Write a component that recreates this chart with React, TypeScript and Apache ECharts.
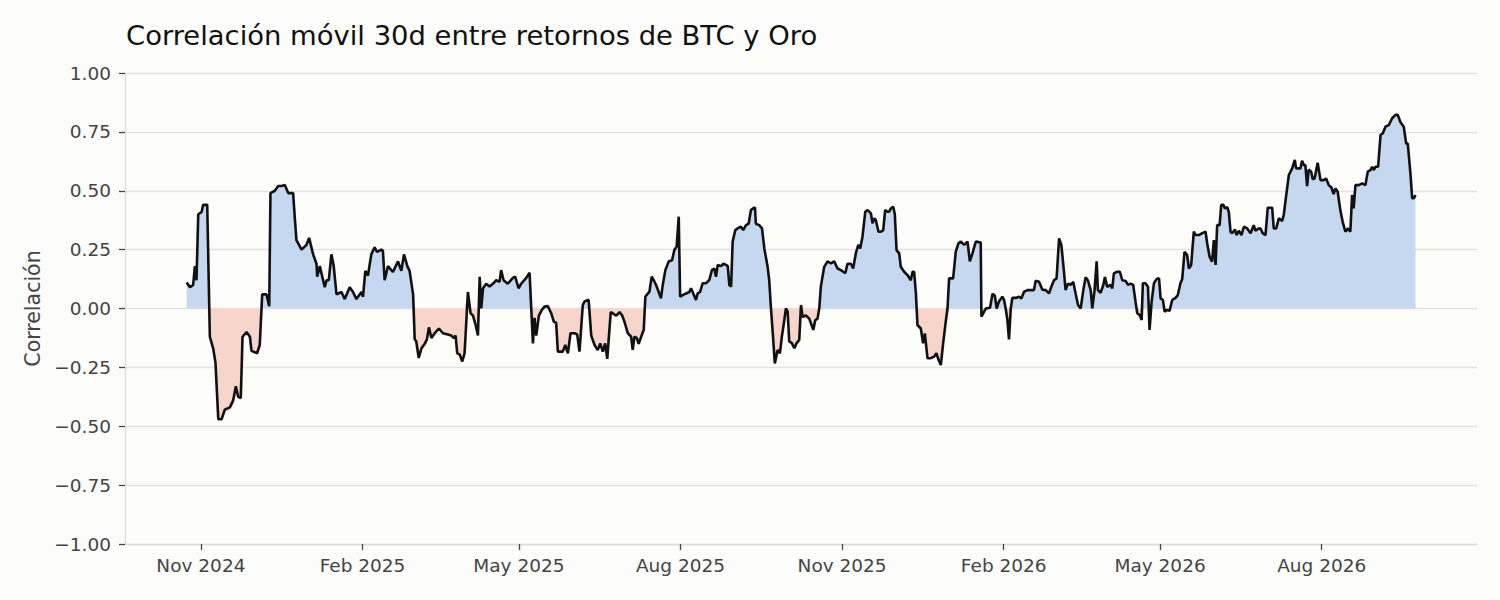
import React, { useEffect, useRef } from 'react'
import * as echarts from 'echarts'

const DAY_MS = 86400000
const ORIGIN = Date.UTC(2024, 10, 1) // 1 Nov 2024, day 0

// días desde 1 nov 2024
const dayOffsets = [
  -8.1, -6.2, -4.4, -3.4, -2.5, -1.5, 0.4, 1.3, 3.6, 5.1, 7.0, 8.3, 9.9, 11.8, 13.6, 16.5, 18.4, 19.9, 21.2, 22.7,
  23.7, 26.0, 27.9, 28.8, 32.0, 33.5, 34.9, 37.3, 38.9, 39.6, 42.1, 44.0, 45.9, 47.8, 49.7, 52.5, 53.5, 54.4, 57.3, 60.1,
  61.6, 63.9, 65.8, 66.2, 67.7, 70.5, 71.5, 72.8, 74.3, 75.6, 77.2, 80.0, 81.9, 84.7, 86.6, 88.5, 91.4, 92.3, 93.6, 95.1,
  97.0, 98.9, 100.3, 102.7, 103.6, 104.6, 106.5, 109.3, 112.2, 114.1, 115.6, 117.5, 118.8, 120.8, 121.7, 122.6, 124.0, 125.5, 127.4, 128.7,
  129.8, 131.2, 133.1, 135.5, 137.8, 140.6, 142.5, 144.0, 145.0, 145.9, 147.3, 148.8, 150.1, 152.0, 153.5, 154.9, 156.4, 157.7, 158.7, 159.6,
  160.6, 162.4, 164.3, 166.2, 168.1, 170.0, 170.9, 172.3, 174.7, 177.6, 178.9, 180.8, 182.3, 185.2, 187.1, 188.0, 189.0, 189.9, 190.9, 192.4,
  194.1, 195.6, 197.5, 199.4, 200.9, 202.2, 203.2, 206.0, 207.4, 208.9, 210.4, 212.7, 214.2, 215.5, 217.4, 218.4, 220.7, 222.2, 224.1, 225.9,
  227.3, 228.8, 230.1, 231.3, 233.3, 236.4, 238.3, 239.8, 241.1, 243.0, 244.9, 245.8, 246.8, 248.1, 249.2, 250.6, 252.1, 253.0, 254.4, 255.3,
  256.6, 257.8, 259.1, 260.6, 261.9, 262.9, 264.4, 266.3, 268.2, 269.5, 270.8, 272.0, 272.8, 274.3, 276.2, 278.1, 279.0, 280.3, 281.8, 282.8,
  284.1, 285.6, 287.5, 289.4, 290.9, 292.3, 293.2, 294.2, 296.1, 297.4, 298.9, 299.9, 300.8, 301.8, 302.7, 304.2, 305.5, 307.4, 308.7, 310.3,
  311.8, 313.1, 314.4, 315.4, 315.9, 317.8, 319.4, 320.7, 322.6, 323.5, 324.5, 325.4, 326.7, 328.3, 329.6, 330.7, 332.1, 333.0, 334.0, 334.9,
  336.4, 337.8, 339.1, 340.6, 341.6, 342.5, 344.4, 346.3, 348.6, 349.7, 351.0, 352.0, 352.9, 354.8, 356.7, 358.6, 360.5, 362.4, 364.3, 365.6,
  366.8, 368.1, 370.0, 371.3, 372.8, 374.2, 375.3, 376.6, 378.2, 379.5, 381.4, 382.3, 383.3, 384.2, 385.7, 387.1, 388.4, 389.5, 390.9, 391.8,
  392.8, 394.1, 395.0, 396.0, 397.5, 398.4, 400.3, 402.2, 404.1, 405.1, 406.0, 407.0, 407.9, 409.8, 411.1, 412.1, 413.6, 415.5, 417.4, 418.7,
  419.9, 421.2, 422.5, 424.0, 425.0, 425.9, 428.2, 429.7, 431.2, 432.6, 434.5, 436.4, 437.7, 439.2, 441.1, 443.9, 444.3, 445.4, 446.8, 449.2,
  450.6, 451.9, 453.0, 454.3, 456.2, 457.2, 458.1, 459.1, 460.0, 461.0, 461.9, 463.8, 465.7, 467.0, 468.6, 470.5, 472.3, 474.2, 475.2, 477.1,
  479.0, 480.9, 482.8, 484.1, 485.6, 487.1, 488.5, 489.8, 491.3, 492.2, 493.6, 495.1, 496.6, 497.9, 499.3, 500.8, 502.3, 503.6, 504.9, 506.5,
  507.4, 508.7, 509.9, 510.6, 512.1, 513.7, 514.6, 515.9, 517.8, 518.8, 519.7, 521.6, 523.1, 524.5, 526.4, 527.7, 529.2, 530.7, 532.0, 533.0,
  534.3, 535.5, 536.2, 537.7, 539.1, 540.0, 541.2, 542.5, 544.0, 545.4, 546.3, 547.6, 548.6, 550.1, 551.4, 552.9, 554.8, 556.1, 557.6, 558.6,
  559.9, 561.4, 562.4, 563.7, 565.2, 566.2, 568.1, 570.0, 571.9, 572.8, 574.2, 575.6, 576.6, 577.6, 578.5, 579.9, 580.8, 582.0, 582.9, 584.2,
  585.1, 586.1, 587.0, 588.6, 589.5, 590.8, 592.3, 593.7, 595.6, 597.5, 599.3, 600.3, 602.2, 603.1, 604.5, 606.0, 607.3, 609.8, 610.7, 612.1,
  613.6, 615.5, 616.4, 617.7, 619.3, 621.2, 622.7, 623.4, 624.9, 625.9, 626.8, 627.8, 628.7, 629.7, 630.6, 632.0, 632.9, 634.0, 635.7, 637.3,
  639.1, 640.5, 642.0, 643.5, 644.8, 645.8, 647.1, 648.6, 649.9, 651.5, 653.0, 654.3, 655.3, 656.2, 657.2, 659.1, 661.0, 662.9, 664.2, 665.8,
  666.7, 667.6, 668.6, 670.1, 671.5, 672.8, 674.3, 676.2, 678.1, 680.0, 681.3, 682.9, 684.7, 686.1, 687.0, 688.5, 689.5, 690.4, 691.4,
]

const correlation = [
  0.11, 0.09, 0.1, 0.18, 0.12, 0.4, 0.41, 0.44, 0.44, -0.12, -0.17, -0.23, -0.47, -0.47, -0.43, -0.42, -0.39, -0.33, -0.375, -0.38,
  -0.12, -0.1, -0.12, -0.18, -0.19, -0.155, 0.06, 0.06, 0.01, 0.49, 0.5, 0.52, 0.52, 0.524, 0.49, 0.49, 0.38, 0.29, 0.25, 0.27,
  0.3, 0.23, 0.19, 0.135, 0.18, 0.09, 0.12, 0.12, 0.23, 0.18, 0.06, 0.07, 0.04, 0.09, 0.07, 0.04, 0.07, 0.05, 0.16, 0.14,
  0.23, 0.26, 0.24, 0.25, 0.245, 0.12, 0.18, 0.155, 0.2, 0.16, 0.23, 0.18, 0.16, 0.06, -0.13, -0.14, -0.21, -0.17, -0.15, -0.13,
  -0.08, -0.125, -0.105, -0.085, -0.105, -0.11, -0.115, -0.125, -0.115, -0.19, -0.195, -0.225, -0.19, 0.07, -0.02, -0.03, -0.07, -0.115, 0.135, 0.0,
  0.086, 0.105, 0.093, 0.105, 0.12, 0.113, 0.163, 0.12, 0.105, 0.13, 0.135, 0.086, 0.105, 0.13, 0.152, 0.008, -0.148, -0.04, -0.115, -0.03,
  -0.006, 0.008, 0.01, -0.02, -0.056, -0.06, -0.183, -0.183, -0.155, -0.19, -0.105, -0.105, -0.11, -0.183, 0.015, 0.03, 0.037, -0.115, -0.155, -0.177,
  -0.148, -0.183, -0.148, -0.214, -0.015, -0.03, -0.015, -0.03, -0.056, -0.105, -0.12, -0.176, -0.12, -0.125, -0.15, -0.12, -0.09, 0.05, 0.064, 0.07,
  0.135, 0.12, 0.1, 0.07, 0.043, 0.1, 0.163, 0.2, 0.205, 0.248, 0.262, 0.39, 0.05, 0.057, 0.064, 0.07, 0.086, 0.064, 0.036, 0.064,
  0.07, 0.107, 0.107, 0.121, 0.163, 0.17, 0.135, 0.185, 0.18, 0.19, 0.185, 0.18, 0.1, 0.093, 0.284, 0.333, 0.34, 0.347, 0.333, 0.354,
  0.36, 0.418, 0.425, 0.43, 0.36, 0.354, 0.34, 0.256, 0.177, 0.121, 0.0, -0.091, -0.233, -0.176, -0.19, -0.12, -0.049, 0.0, -0.013, -0.14,
  -0.147, -0.169, -0.147, -0.133, 0.015, -0.036, -0.03, -0.043, -0.091, -0.05, -0.043, 0.0, 0.093, 0.177, 0.2, 0.192, 0.2, 0.17, 0.163, 0.156,
  0.15, 0.19, 0.19, 0.17, 0.234, 0.27, 0.255, 0.305, 0.411, 0.418, 0.404, 0.362, 0.383, 0.376, 0.326, 0.326, 0.333, 0.418, 0.411, 0.411,
  0.425, 0.432, 0.4, 0.248, 0.234, 0.177, 0.156, 0.142, 0.12, 0.156, 0.156, 0.064, -0.07, -0.085, -0.148, -0.106, -0.211, -0.211, -0.204, -0.19,
  -0.218, -0.24, -0.148, -0.056, 0.0, 0.128, 0.128, 0.241, 0.277, 0.284, 0.27, 0.284, 0.2, 0.234, 0.284, 0.28, -0.035, -0.02, 0.0, 0.003,
  0.062, 0.055, 0.0, 0.03, 0.05, 0.036, 0.0, -0.049, -0.131, 0.0, 0.045, 0.045, 0.05, 0.043, 0.071, 0.078, 0.078, 0.078, 0.118, 0.114,
  0.08, 0.078, 0.064, 0.092, 0.12, 0.128, 0.298, 0.27, 0.156, 0.078, 0.106, 0.1, 0.113, 0.064, 0.015, 0.0, 0.078, 0.132, 0.12, 0.078,
  0.0, 0.078, 0.2, 0.078, 0.067, 0.1, 0.134, 0.092, 0.1, 0.085, 0.149, 0.156, 0.156, 0.12, 0.117, 0.1, 0.106, 0.1, 0.03, -0.02,
  -0.027, -0.049, 0.107, 0.107, 0.092, -0.091, 0.03, 0.107, 0.125, 0.128, 0.043, 0.036, -0.013, -0.006, -0.01, 0.036, 0.045, 0.057, 0.107, 0.125,
  0.241, 0.227, 0.17, 0.185, 0.326, 0.312, 0.312, 0.32, 0.326, 0.277, 0.22, 0.199, 0.29, 0.185, 0.354, 0.354, 0.44, 0.44, 0.425, 0.43,
  0.411, 0.326, 0.319, 0.336, 0.312, 0.33, 0.312, 0.347, 0.34, 0.319, 0.354, 0.33, 0.34, 0.34, 0.319, 0.312, 0.428, 0.428, 0.34, 0.34,
  0.383, 0.372, 0.397, 0.475, 0.567, 0.595, 0.631, 0.595, 0.595, 0.595, 0.627, 0.609, 0.609, 0.52, 0.59, 0.581, 0.549, 0.553, 0.619, 0.545,
  0.545, 0.552, 0.524, 0.514, 0.486, 0.51, 0.496, 0.418, 0.369, 0.326, 0.34, 0.326, 0.482, 0.425, 0.524, 0.524, 0.531, 0.524, 0.581, 0.588,
  0.602, 0.588, 0.602, 0.602, 0.737, 0.744, 0.772, 0.779, 0.808, 0.822, 0.822, 0.79, 0.772, 0.7, 0.7, 0.574, 0.468, 0.468, 0.482,
]

const tickDates = ['2024-11-01', '2025-02-01', '2025-05-01', '2025-08-01', '2025-11-01', '2026-02-01', '2026-05-01', '2026-08-01']
const monthNames = ['Jan', 'Feb', 'Mar', 'Apr', 'May', 'Jun', 'Jul', 'Aug', 'Sep', 'Oct', 'Nov', 'Dec']

const FONT = '"DejaVu Sans", sans-serif'

const fmtY = (v: number) => {
  const s = Math.abs(v).toFixed(2)
  return v < -1e-9 ? '\u2212' + s : s
}

export default function App() {
  const ref = useRef<HTMLDivElement | null>(null)

  useEffect(() => {
    if (!ref.current) return
    const chart = echarts.init(ref.current, null, { renderer: 'svg' })

    const linePts = dayOffsets.map((d, i) => [d, correlation[i]])
    const posPts = dayOffsets.map((d, i) => [d, Math.max(correlation[i], 0)])
    const negPts = dayOffsets.map((d, i) => [d, Math.min(correlation[i], 0)])
    const tickDays = tickDates.map((s) => {
      const [y, m, d] = s.split('-').map(Number)
      return Math.round((Date.UTC(y, m - 1, d) - ORIGIN) / DAY_MS)
    })
    const dayLabel = (v: number) => {
      const dt = new Date(ORIGIN + v * DAY_MS)
      return `${monthNames[dt.getUTCMonth()]} ${dt.getUTCFullYear()}`
    }

    chart.setOption({
      animation: false,
      backgroundColor: '#fcfcfa',
      title: {
        text: 'Correlación móvil 30d entre retornos de BTC y Oro',
        left: 121,
        top: 17,
        textStyle: { fontFamily: FONT, fontSize: 27.4, fontWeight: 'normal', color: '#111' },
      },
      grid: { left: 125, right: 23, top: 73, bottom: 56 },
      xAxis: {
        type: 'value',
        min: -43.2,
        max: 726.4,
        axisLine: { show: true, onZero: false, lineStyle: { color: '#dcdcd6', width: 1.3 } },
        axisTick: { show: true, customValues: tickDays, length: 6, lineStyle: { color: '#444', width: 1.3 } },
        axisLabel: {
          customValues: tickDays,
          margin: 12,
          color: '#444',
          fontFamily: FONT,
          fontSize: 18.5,
          formatter: dayLabel,
        },
        splitLine: { show: false },
      },
      yAxis: {
        type: 'value',
        min: -1,
        max: 1,
        interval: 0.25,
        name: 'Correlación',
        nameLocation: 'middle',
        nameGap: 82,
        nameTextStyle: { fontFamily: FONT, fontSize: 20.5, color: '#444' },
        axisLine: { show: true, onZero: false, lineStyle: { color: '#dcdcd6', width: 1.3 } },
        axisTick: { show: true, length: 6, lineStyle: { color: '#444', width: 1.3 } },
        axisLabel: { margin: 14, color: '#444', fontFamily: FONT, fontSize: 18.5, formatter: fmtY },
        splitLine: { show: true, lineStyle: { color: '#e2e2de', width: 1.3 } },
      },
      series: [
        {
          type: 'line',
          data: posPts,
          showSymbol: false,
          lineStyle: { width: 0 },
          areaStyle: { color: '#c6d8f0', opacity: 1 },
          silent: true,
          z: 1,
        },
        {
          type: 'line',
          data: negPts,
          showSymbol: false,
          lineStyle: { width: 0 },
          areaStyle: { color: '#f7d5ca', opacity: 1 },
          silent: true,
          z: 1,
        },
        {
          type: 'line',
          data: linePts,
          showSymbol: false,
          lineStyle: { color: '#111', width: 2.6 },
          z: 3,
        },
      ],
    })

    return () => chart.dispose()
  }, [])

  return <div ref={ref} style={{ position: 'absolute', left: 0, top: 0, width: 1500, height: 600 }} />
}
